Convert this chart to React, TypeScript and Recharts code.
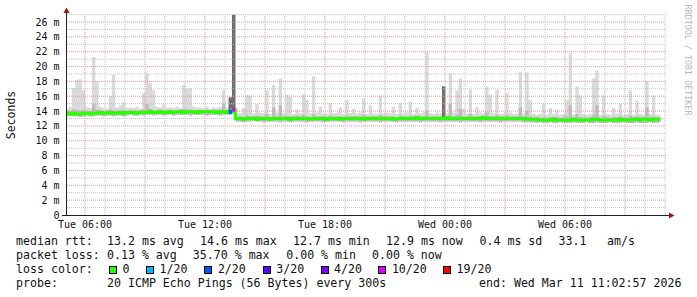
import React from 'react';
import { ComposedChart, Area, Line, XAxis, YAxis, ReferenceLine } from 'recharts';

// time axis: hours since Tue 00:00, one sample every 10 minutes
const startHour = 5.1;
const stepHours = 1 / 6;

// median RTT in ms
const medianRtt = [
  13.7, 13.6, 13.7, 13.6, 13.6, 13.7, 13.7, 13.6, 13.7, 13.7,
  13.8, 13.7, 13.7, 13.8, 13.7, 13.7, 13.8, 13.7, 13.8, 13.8,
  13.8, 13.7, 13.8, 13.8, 13.8, 13.9, 13.8, 13.8, 13.9, 13.8,
  13.8, 13.9, 13.8, 13.9, 13.9, 13.8, 13.9, 13.9, 13.9, 13.8,
  13.9, 13.9, 13.9, 13.9, 13.9, 13.8, 13.9, 13.9, 13.8, 13.9,
  14.2,
  13.0, 13.0, 12.9, 13.0, 13.0, 13.0, 12.9, 13.0, 13.0, 13.0,
  12.9, 13.0, 13.0, 13.0, 13.0, 13.0, 12.9, 13.0, 13.0, 13.0,
  13.0, 13.0, 12.9, 13.0, 13.0, 13.0, 13.0, 12.9, 13.0, 13.0,
  13.0, 12.9, 13.0, 13.0, 13.0, 13.0, 13.0, 13.0, 12.9, 13.0,
  13.0, 13.0, 13.0, 13.0, 13.0, 13.0, 13.0, 12.9, 13.0, 13.0,
  13.0, 13.0, 13.0, 13.0, 13.1, 13.0, 13.0, 13.0, 13.0, 13.0,
  13.0, 13.0, 13.0, 13.1, 13.0, 13.0, 13.0, 13.0, 13.0, 13.0,
  13.0, 13.0, 13.0, 13.0, 13.1, 13.0, 13.0, 13.0, 13.0, 13.0,
  13.0, 13.0, 13.0, 13.0, 13.0, 13.0, 13.0, 12.9, 12.9, 12.9,
  12.9, 12.8, 12.8, 12.8, 12.8, 12.9, 12.8, 12.8, 12.8, 12.8,
  12.8, 12.9, 12.8, 12.8, 12.8, 12.8, 12.8, 12.9, 12.9, 12.8,
  12.8, 12.8, 12.8, 12.8, 12.8, 12.9, 12.8, 12.8, 12.8, 12.9,
  12.9, 12.8, 12.9, 12.9, 12.8, 12.9, 12.9, 12.9,
];

// highest ping of each round (light smoke top)
const maxRtt = [
  14.3, 14.6, 17.1, 18.2, 18.3, 16.8, 14.5, 14.4, 21.3, 18.0,
  14.6, 14.4, 14.3, 16.0, 18.9, 14.5, 14.8, 15.2, 14.4, 14.5,
  14.4, 14.6, 14.3, 16.4, 19.1, 17.8, 16.8, 14.6, 14.5, 14.9,
  14.4, 14.5, 14.4, 14.6, 14.4, 17.5, 17.0, 17.1, 14.6, 14.5,
  14.5, 14.4, 14.6, 14.3, 14.5, 14.4, 14.6, 16.8, 14.5, 15.9,
  27.0,
  13.6, 13.7, 14.4, 16.2, 16.1, 13.7, 15.0, 13.8, 13.7, 16.8,
  13.6, 17.5, 13.8, 18.4, 13.7, 16.2, 15.9, 13.6, 14.2, 13.7,
  16.3, 15.5, 13.7, 18.7, 13.8, 14.6, 13.7, 13.6, 15.1, 13.7,
  13.8, 14.5, 13.6, 15.5, 13.7, 14.3, 13.7, 13.8, 15.7, 13.6,
  14.8, 13.7, 13.6, 16.1, 13.7, 13.8, 13.7, 14.6, 13.6, 15.1,
  13.7, 13.8, 15.3, 13.6, 14.5, 13.7, 13.8, 22.0, 13.7, 13.6,
  13.8, 13.7, 17.3, 13.7, 19.1, 13.8, 16.8, 18.4, 14.3, 13.7,
  16.9, 13.6, 14.6, 13.8, 13.7, 17.3, 16.2, 13.7, 16.9, 13.6,
  13.7, 16.5, 13.8, 13.6, 13.7, 19.3, 13.7, 19.2, 15.5, 13.6,
  13.5, 13.6, 15.0, 13.5, 14.4, 13.6, 14.2, 13.5, 13.6, 15.5,
  21.8, 13.5, 17.3, 16.1, 13.6, 13.5, 13.6, 18.4, 19.5, 13.5,
  16.1, 13.6, 13.5, 14.4, 13.6, 15.0, 13.5, 13.6, 16.8, 13.5,
  15.4, 13.6, 13.5, 18.0, 13.6, 16.1, 13.5, 13.5,
];

// lowest ping of each round (smoke bottom)
const minRtt = [
  13.3, 13.4, 13.3, 13.3, 13.2, 13.3, 13.4, 13.3, 13.3, 13.4,
  13.4, 13.3, 13.4, 13.4, 13.3, 13.4, 13.4, 13.3, 13.4, 13.5,
  13.4, 13.4, 13.5, 13.4, 13.5, 13.5, 13.4, 13.5, 13.5, 13.4,
  13.5, 13.5, 13.4, 13.5, 13.5, 13.5, 13.5, 13.4, 13.5, 13.5,
  13.5, 13.5, 13.4, 13.5, 13.5, 13.5, 13.4, 13.5, 13.5, 13.5,
  13.6,
  12.6, 12.6, 12.5, 12.6, 12.6, 12.7, 12.6, 12.6, 12.5, 12.6,
  12.6, 12.6, 12.6, 12.5, 12.6, 12.6, 12.5, 12.6, 12.6, 12.6,
  12.6, 12.5, 12.6, 12.6, 12.6, 12.6, 12.5, 12.6, 12.6, 12.6,
  12.6, 12.6, 12.5, 12.6, 12.6, 12.6, 12.6, 12.5, 12.6, 12.6,
  12.6, 12.6, 12.6, 12.5, 12.6, 12.6, 12.6, 12.6, 12.5, 12.6,
  12.6, 12.6, 12.6, 12.6, 12.6, 12.5, 12.6, 12.6, 12.6, 12.6,
  12.6, 12.5, 12.6, 12.6, 12.6, 12.6, 12.6, 12.5, 12.6, 12.6,
  12.6, 12.6, 12.6, 12.5, 12.6, 12.6, 12.6, 12.6, 12.6, 12.5,
  12.6, 12.6, 12.6, 12.6, 12.6, 12.6, 12.5, 12.5, 12.5, 12.5,
  12.4, 12.5, 12.4, 12.4, 12.5, 12.4, 12.4, 12.5, 12.4, 12.4,
  12.4, 12.5, 12.4, 12.4, 12.4, 12.5, 12.4, 12.4, 12.5, 12.4,
  12.4, 12.4, 12.5, 12.4, 12.4, 12.4, 12.5, 12.4, 12.4, 12.4,
  12.5, 12.4, 12.4, 12.4, 12.5, 12.4, 12.4, 12.5,
];

// denser smoke top (most pings below this)
const midRtt = [
  14.0, 14.0, 14.2, 14.1, 14.0, 14.1, 14.0, 14.0, 15.0, 14.2,
  14.1, 14.0, 14.1, 14.2, 14.1, 14.0, 14.1, 14.1, 14.0, 14.1,
  14.1, 14.0, 14.1, 14.2, 15.0, 14.3, 14.1, 14.1, 14.2, 14.1,
  14.1, 14.2, 14.1, 14.1, 14.2, 14.3, 14.2, 14.2, 14.1, 14.1,
  14.2, 14.1, 14.2, 14.1, 14.2, 14.1, 14.2, 15.0, 14.1, 15.9,
  27.0,
  13.3, 13.3, 13.2, 13.5, 13.3, 13.3, 13.4, 13.3, 13.3, 13.6,
  13.2, 14.5, 13.3, 14.8, 13.3, 13.4, 13.3, 13.3, 13.4, 13.3,
  13.5, 13.3, 13.2, 13.6, 13.3, 13.3, 13.3, 13.2, 13.4, 13.3,
  13.3, 13.3, 13.2, 13.4, 13.3, 13.3, 13.3, 13.3, 13.5, 13.3,
  13.3, 13.3, 13.3, 13.5, 13.3, 13.3, 13.3, 13.3, 13.2, 13.4,
  13.3, 13.3, 13.4, 13.3, 13.4, 13.3, 13.3, 14.0, 13.3, 13.3,
  13.3, 13.3, 17.3, 13.3, 15.0, 13.3, 13.5, 14.3, 13.3, 13.3,
  13.6, 13.3, 13.3, 13.3, 13.4, 13.8, 13.3, 13.3, 13.5, 13.3,
  13.3, 13.5, 13.3, 13.3, 13.3, 14.5, 13.3, 14.0, 13.3, 13.2,
  13.2, 13.1, 13.2, 13.1, 13.2, 13.2, 13.2, 13.1, 13.2, 13.3,
  14.8, 13.2, 13.6, 13.2, 13.2, 13.1, 13.2, 13.5, 14.8, 13.1,
  13.3, 13.2, 13.1, 13.2, 13.2, 13.3, 13.1, 13.2, 13.4, 13.2,
  13.3, 13.2, 13.2, 14.5, 13.2, 13.3, 13.2, 13.2,
];

// dark smoke (many pings high) at a few samples
const darkIdx = [49, 50, 113];
const darkTop = [15.8, 27.0, 17.3];

// packet loss (x/20) at a few samples
const lossIdx = [49, 50];
const lossLevel = [2, 10];

const yTicks = [0, 2, 4, 6, 8, 10, 12, 14, 16, 18, 20, 22, 24, 26];
const yMinorLines = [1, 3, 5, 7, 9, 11, 13, 15, 17, 19, 21, 23, 25, 27];
const xTickHours = [6, 12, 18, 24, 30];
const xTickLabels = ['Tue 06:00', 'Tue 12:00', 'Tue 18:00', 'Wed 00:00', 'Wed 06:00'];
const xMajorLines = [6, 9, 12, 15, 18, 21, 24, 27, 30, 33];
const xMinorLines = [7, 8, 10, 11, 13, 14, 16, 17, 19, 20, 22, 23, 25, 26, 28, 29, 31, 32, 34, 35];

const lossLegend = [
  { label: '0', color: '#26ff00' },
  { label: '1/20', color: '#00b8ff' },
  { label: '2/20', color: '#0059ff' },
  { label: '3/20', color: '#5e00ff' },
  { label: '4/20', color: '#7e00ff' },
  { label: '10/20', color: '#dd00ff' },
  { label: '19/20', color: '#ff0000' },
];
const lossColorByLevel: Record<number, string> = { 1: '#00b8ff', 2: '#0059ff', 3: '#5e00ff', 4: '#7e00ff', 10: '#dd00ff', 19: '#ff0000' };

const rttLine = ['median rtt:', '13.2 ms avg', '14.6 ms max', '12.7 ms min', '12.9 ms now', '0.4 ms sd', '33.1', 'am/s'];
const lossLine = ['packet loss:', '0.13 % avg', '35.70 % max', '0.00 % min', '0.00 % now'];
const probeLine = ['probe:', '20 ICMP Echo Pings (56 Bytes) every 300s', 'end: Wed Mar 11 11:02:57 2026'];

const data = medianRtt.map((m, i) => {
  const di = darkIdx.indexOf(i);
  const li = lossIdx.indexOf(i);
  return {
    t: startHour + i * stepHours,
    median: m,
    light: [minRtt[i], maxRtt[i]],
    mid: [minRtt[i], midRtt[i]],
    dark: di >= 0 ? [m, darkTop[di]] : [m, m],
    loss: li >= 0 ? lossLevel[li] : 0,
  };
});

const MONO = '"DejaVu Sans Mono", "Liberation Mono", monospace';

const renderLossDot = (props: any) => {
  const { cx, cy, payload, index } = props;
  if (!payload || !payload.loss) return <g key={`d${index}`} />;
  return <rect key={`d${index}`} x={cx - 1.7} y={cy - 2} width={3.4} height={4} fill={lossColorByLevel[payload.loss]} />;
};

const textStyle: React.CSSProperties = {
  position: 'absolute',
  fontFamily: MONO,
  fontSize: 11.6,
  lineHeight: '14px',
  color: '#111',
  whiteSpace: 'pre',
};

const rttX = [16, 107, 200, 293, 386, 479.5, 558.5, 607];
const lossX = [16, 107, 192.8, 286.2, 372];
const sqX = [109, 146, 204.4, 262.7, 320.5, 378.4, 443];
const probeX = [16, 107, 479];

export default function App() {
  return (
    <div style={{ position: 'absolute', left: 0, top: 0, width: 697, height: 297, background: '#fff' }}>
      <div style={{ position: 'absolute', left: 0, top: 0 }}>
        <ComposedChart width={697} height={232} data={data} margin={{ top: 14.6, right: 30, bottom: 0, left: 10 }}>
          <XAxis
            type="number"
            dataKey="t"
            domain={[5.1, 35.1]}
            ticks={xTickHours}
            interval={0}
            tickFormatter={(v: number) => xTickLabels[xTickHours.indexOf(v)]}
            axisLine={false}
            tickLine={false}
            tickSize={0}
            tickMargin={6}
            height={17}
            allowDataOverflow
            tick={{ fontFamily: MONO, fontSize: 10, fill: '#111' }}
          />
          <YAxis
            type="number"
            domain={[0, 27]}
            ticks={yTicks}
            interval={0}
            tickFormatter={(v: number) => (v === 0 ? '0' : `${v} m`)}
            axisLine={false}
            tickLine={false}
            tickSize={0}
            tickMargin={7.5}
            width={57}
            allowDataOverflow
            tick={{ fontFamily: MONO, fontSize: 10, fill: '#111' }}
          />
          {yMinorLines.map((v) => (
            <ReferenceLine key={`ym${v}`} y={v} stroke="#c4c4c4" strokeDasharray="1 1" />
          ))}
          {yTicks.filter((v) => v > 0).map((v) => (
            <ReferenceLine key={`yM${v}`} y={v} stroke="#e39a9a" strokeDasharray="1 1" />
          ))}
          {xMinorLines.map((v) => (
            <ReferenceLine key={`xm${v}`} x={v} stroke="#c4c4c4" strokeDasharray="1 1" />
          ))}
          {xMajorLines.map((v) => (
            <ReferenceLine key={`xM${v}`} x={v} stroke="#e39a9a" strokeDasharray="1 1" />
          ))}
          <Area type="step" dataKey="light" stroke="none" fill="#dadada" fillOpacity={1} isAnimationActive={false} dot={false} activeDot={false} />
          <Area type="step" dataKey="mid" stroke="none" fill="#bcbcbc" fillOpacity={1} isAnimationActive={false} dot={false} activeDot={false} />
          <Area type="step" dataKey="dark" stroke="none" fill="#6e6e6e" fillOpacity={1} isAnimationActive={false} dot={false} activeDot={false} />
          <Line type="step" dataKey="median" stroke="#26ff00" strokeWidth={3} isAnimationActive={false} dot={renderLossDot} activeDot={false} />
        </ComposedChart>
      </div>
      <svg width={697} height={297} style={{ position: 'absolute', left: 0, top: 0, pointerEvents: 'none' }}>
        <line x1={66.5} y1={12} x2={66.5} y2={216} stroke="#222" strokeWidth={1} />
        <polygon points="63.5,13 69.5,13 66.5,7.5" fill="#8a1a1a" />
        <line x1={62} y1={215.5} x2={669} y2={215.5} stroke="#222" strokeWidth={1} />
        <polygon points="669,212.5 669,218.5 674.5,215.5" fill="#8a1a1a" />
        <text x={11} y={115} transform="rotate(-90 11 115)" textAnchor="middle" dominantBaseline="central" fontFamily={MONO} fontSize={11.5} fill="#111">
          Seconds
        </text>
        <text x={687.5} y={60} transform="rotate(90 687.5 60)" textAnchor="middle" dominantBaseline="central" fontFamily={MONO} fontSize={8.4} fill="#b8b8b8">
          RRDTOOL / TOBI OETIKER
        </text>
      </svg>
      {rttLine.map((s, k) => (
        <span key={`r${k}`} style={{ ...textStyle, left: rttX[k], top: 233.5 }}>{s}</span>
      ))}
      {lossLine.map((s, k) => (
        <span key={`l${k}`} style={{ ...textStyle, left: lossX[k], top: 248 }}>{s}</span>
      ))}
      <span style={{ ...textStyle, left: 16, top: 262.3 }}>loss color:</span>
      {lossLegend.map((e, k) => (
        <React.Fragment key={`c${k}`}>
          <div style={{ position: 'absolute', left: sqX[k], top: 265.8, width: 8, height: 8, boxSizing: 'border-box', border: '1px solid #000', background: e.color }} />
          <span style={{ ...textStyle, left: sqX[k] + 13.5, top: 262.3 }}>{e.label}</span>
        </React.Fragment>
      ))}
      {probeLine.map((s, k) => (
        <span key={`p${k}`} style={{ ...textStyle, left: probeX[k], top: 276.3 }}>{s}</span>
      ))}
    </div>
  );
}
